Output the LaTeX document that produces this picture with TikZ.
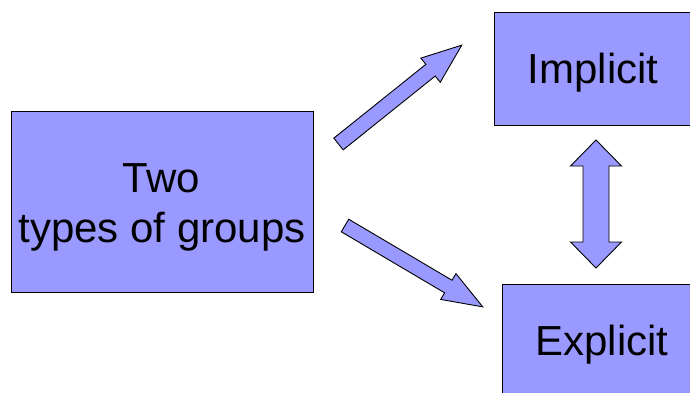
\documentclass[tikz,border=0pt]{standalone}
\usepackage{fontspec}
\setmainfont{Liberation Sans}
\definecolor{lav}{HTML}{9999FF}
\begin{document}
\begin{tikzpicture}[x=1pt,y=1pt,
  box/.style={draw=black, line width=0.9pt, fill=lav, inner sep=0pt},
  blk/.style={draw=black, line width=0.9pt, fill=lav, line join=miter},
  txt/.style={font=\fontsize{42}{50}\selectfont, inner sep=0pt, anchor=base}]
  \useasboundingbox (0,0) rectangle (690,392);
  \clip (0,0) rectangle (690,392);

  % boxes
  \node[box, minimum width=302pt, minimum height=181pt] (src) at (162,190.5) {};
  \node[box, minimum width=198pt, minimum height=113pt] (imp) at (593,323.5) {};
  \node[box, minimum width=200pt, minimum height=118pt] (exp) at (602,49) {};

  % labels
  \node[txt] (srcA) at (161.5,200) {Two};
  \node[txt] (srcB) at (162,150) {types of groups};
  \node[txt] (impT) at (593,309) {Implicit};
  \node[txt] (expT) at (602,37) {Explicit};

  % block arrow towards Implicit
  \begin{scope}[shift={(338.5,248)}, rotate=38.72]
    \draw[blk] (0,-7.5) -- (118,-7.5) -- (118,-15.5) -- (158,0)
      -- (118,15.5) -- (118,7.5) -- (0,7.5) -- cycle;
  \end{scope}

  % block arrow towards Explicit
  \begin{scope}[shift={(345,166.5)}, rotate=-30.57]
    \draw[blk] (0,-7.3) -- (120,-7.3) -- (120,-15) -- (160,0)
      -- (120,15) -- (120,7.3) -- (0,7.3) -- cycle;
  \end{scope}

  % double block arrow between Implicit and Explicit
  \draw[blk] (596,252) -- (621.5,226) -- (609,226) -- (609,150)
    -- (621.5,150) -- (596,124) -- (570.5,150) -- (583,150)
    -- (583,226) -- (570.5,226) -- cycle;
\end{tikzpicture}
\end{document}
